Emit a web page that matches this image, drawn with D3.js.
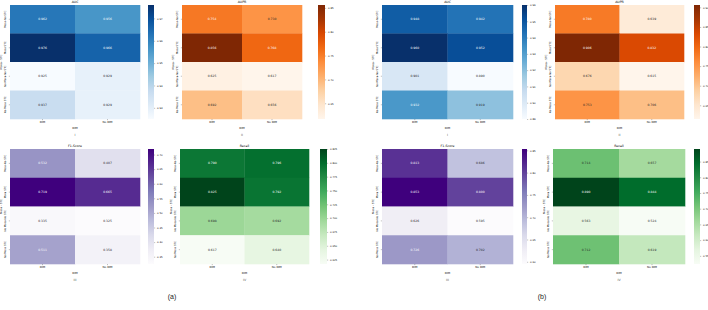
<!DOCTYPE html>
<html><head><meta charset="utf-8">
<script src="https://cdn.jsdelivr.net/npm/d3@7"></script>
<style>body{margin:0;background:#fff}svg{display:block}</style>
</head><body>
<svg id="chart" width="708" height="310"></svg>
<script>
// ---------------- data ----------------
const rowLabels = ["Mosa-No STC", "Mosa STC", "No Mosa-No STC", "No Mosa STC"];
const colLabels = ["DIM", "No DIM"];

// subfigure (a)
const aucA    = [[0.962, 0.956], [0.976, 0.966], [0.925, 0.929], [0.937, 0.929]];
const auprA   = [[0.754, 0.730], [0.856, 0.768], [0.625, 0.617], [0.692, 0.656]];
const f1A     = [[0.532, 0.407], [0.719, 0.665], [0.335, 0.325], [0.511, 0.358]];
const recallA = [[0.790, 0.796], [0.825, 0.792], [0.698, 0.692], [0.617, 0.640]];
// subfigure (b)
const aucB    = [[0.948, 0.942], [0.960, 0.952], [0.901, 0.890], [0.932, 0.919]];
const auprB   = [[0.780, 0.639], [0.906, 0.832], [0.676, 0.615], [0.753, 0.706]];
const f1B     = [[0.813, 0.686], [0.853, 0.800], [0.626, 0.595], [0.726, 0.702]];
const recallB = [[0.714, 0.657], [0.890, 0.844], [0.563, 0.524], [0.712, 0.619]];

// colorbar tick labels
const aucATicks    = [0.93, 0.94, 0.95, 0.96, 0.97];
const auprATicks   = [0.65, 0.70, 0.75, 0.80, 0.85];
const f1ATicks     = [0.35, 0.40, 0.45, 0.50, 0.55, 0.60, 0.65, 0.70];
const recallATicks = [0.625, 0.650, 0.675, 0.700, 0.725, 0.750, 0.775, 0.800, 0.825];
const aucBTicks    = [0.89, 0.90, 0.91, 0.92, 0.93, 0.94, 0.95, 0.96];
const auprBTicks   = [0.65, 0.70, 0.75, 0.80, 0.85, 0.90];
const f1BTicks     = [0.60, 0.65, 0.70, 0.75, 0.80, 0.85];
const recallBTicks = [0.55, 0.60, 0.65, 0.70, 0.75, 0.80, 0.85];

const titles = ["AUC", "AUPR", "F1-Score", "Recall"];
const subLabels = ["I", "II", "III", "IV"];
const figLabels = ["(a)", "(b)"];

// ---------------- styles (matplotlib sequential maps) ----------------
const BLUES   = ["#f7fbff","#deebf7","#c6dbef","#9ecae1","#6baed6","#4292c6","#2171b5","#08519c","#08306b"];
const ORANGES = ["#fff5eb","#fee6ce","#fdd0a2","#fdae6b","#fd8d3c","#f16913","#d94801","#a63603","#7f2704"];
const PURPLES = ["#fcfbfd","#efedf5","#dadaeb","#bcbddc","#9e9ac8","#807dba","#6a51a3","#54278f","#3f007d"];
const GREENS  = ["#f7fcf5","#e5f5e0","#c7e9c0","#a1d99b","#74c476","#41ab5d","#238b45","#006d2c","#00441b"];

const FONT = "'DejaVu Sans', sans-serif";
const TOP_ROW = {top: 5, bottom: 119};
const BOT_ROW = {top: 149, bottom: 264};

const panels = [
  {values: aucA,    ticks: aucATicks,    fmt: ".2f", cmap: BLUES,   t: 0, row: TOP_ROW, x0: 10,  x1: 140, cb0: 148, cb1: 154},
  {values: auprA,   ticks: auprATicks,   fmt: ".2f", cmap: ORANGES, t: 1, row: TOP_ROW, x0: 182, x1: 302, cb0: 318, cb1: 325},
  {values: f1A,     ticks: f1ATicks,     fmt: ".2f", cmap: PURPLES, t: 2, row: BOT_ROW, x0: 10,  x1: 140, cb0: 148, cb1: 154},
  {values: recallA, ticks: recallATicks, fmt: ".3f", cmap: GREENS,  t: 3, row: BOT_ROW, x0: 180, x1: 309, cb0: 320, cb1: 327},
  {values: aucB,    ticks: aucBTicks,    fmt: ".2f", cmap: BLUES,   t: 0, row: TOP_ROW, x0: 382, x1: 513, cb0: 522, cb1: 527},
  {values: auprB,   ticks: auprBTicks,   fmt: ".2f", cmap: ORANGES, t: 1, row: TOP_ROW, x0: 555, x1: 684, cb0: 694, cb1: 700},
  {values: f1B,     ticks: f1BTicks,     fmt: ".2f", cmap: PURPLES, t: 2, row: BOT_ROW, x0: 382, x1: 513, cb0: 522, cb1: 527},
  {values: recallB, ticks: recallBTicks, fmt: ".2f", cmap: GREENS,  t: 3, row: BOT_ROW, x0: 553, x1: 685, cb0: 694, cb1: 700}
];

const svg = d3.select("#chart");
svg.append("rect").attr("width", 708).attr("height", 310).attr("fill", "#fff");
const defs = svg.append("defs");

function luminance(c) {
  const rgb = d3.rgb(c);
  const lin = v => { v /= 255; return v <= 0.03928 ? v / 12.92 : Math.pow((v + 0.055) / 1.055, 2.4); };
  return 0.2126 * lin(rgb.r) + 0.7152 * lin(rgb.g) + 0.0722 * lin(rgb.b);
}

panels.forEach((p, pi) => {
  const flat = p.values.flat();
  const vmin = d3.min(flat), vmax = d3.max(flat);
  const color = d3.scaleLinear()
    .domain(p.cmap.map((_, i) => vmin + i / (p.cmap.length - 1) * (vmax - vmin)))
    .range(p.cmap).clamp(true);
  const x = d3.scaleBand().domain(colLabels).range([p.x0, p.x1]);
  const y = d3.scaleBand().domain(rowLabels).range([p.row.top, p.row.bottom]);
  const g = svg.append("g").attr("font-family", FONT);

  const cells = [];
  p.values.forEach((r, ri) => r.forEach((v, ci) => cells.push({r: rowLabels[ri], c: colLabels[ci], v})));

  g.selectAll("rect.cell").data(cells).join("rect")
    .attr("class", "cell")
    .attr("x", d => x(d.c)).attr("y", d => y(d.r))
    .attr("width", x.bandwidth() + 0.3).attr("height", y.bandwidth() + 0.3)
    .attr("fill", d => color(d.v));

  g.selectAll("text.annot").data(cells).join("text")
    .attr("class", "annot")
    .attr("x", d => x(d.c) + x.bandwidth() / 2)
    .attr("y", d => y(d.r) + y.bandwidth() / 2)
    .attr("dy", "0.35em").attr("text-anchor", "middle")
    .attr("font-size", 3)
    .attr("fill", d => luminance(color(d.v)) > 0.408 ? "#262626" : "#ffffff")
    .text(d => d3.format(".3f")(d.v));

  // x axis
  const xa = g.append("g").attr("transform", `translate(0,${p.row.bottom})`)
    .call(d3.axisBottom(x).tickSize(1.2).tickPadding(1.3));
  xa.select(".domain").remove();
  xa.selectAll("line").attr("stroke", "#333").attr("stroke-width", 0.3);
  xa.selectAll("text").attr("font-size", 2.8).attr("font-family", FONT).attr("fill", "#000");

  // y axis with rotated labels
  const ya = g.append("g").attr("transform", `translate(${p.x0},0)`)
    .call(d3.axisLeft(y).tickSize(1.2));
  ya.select(".domain").remove();
  ya.selectAll("line").attr("stroke", "#333").attr("stroke-width", 0.3);
  ya.selectAll("text")
    .attr("transform", "rotate(-90)")
    .attr("x", 0).attr("y", -4.5).attr("dy", "0.35em")
    .attr("text-anchor", "middle")
    .attr("font-size", 2.6).attr("font-family", FONT).attr("fill", "#000");

  // axis labels
  g.append("text")
    .attr("transform", `translate(${p.x0 - 9},${(p.row.top + p.row.bottom) / 2}) rotate(-90)`)
    .attr("text-anchor", "middle").attr("dy", "0.35em")
    .attr("font-size", 2.7).text("Mosa - STC");
  g.append("text")
    .attr("x", (p.x0 + p.x1) / 2).attr("y", p.row.bottom + 9).attr("dy", "0.35em")
    .attr("text-anchor", "middle").attr("font-size", 2.8).text("DIM");
  g.append("text")
    .attr("x", (p.x0 + p.x1) / 2).attr("y", p.row.bottom + 15.5).attr("dy", "0.35em")
    .attr("text-anchor", "middle").attr("font-size", 3.2).attr("fill", "#444").text(subLabels[p.t]);
  g.append("text")
    .attr("x", (p.x0 + p.x1) / 2).attr("y", p.row.top - 3).attr("dy", "0.35em")
    .attr("text-anchor", "middle").attr("font-size", 3.2).text(titles[p.t]);

  // colorbar
  const gid = "grad" + pi;
  const grad = defs.append("linearGradient").attr("id", gid)
    .attr("x1", 0).attr("y1", 1).attr("x2", 0).attr("y2", 0);
  p.cmap.forEach((c, i) => grad.append("stop")
    .attr("offset", i / (p.cmap.length - 1)).attr("stop-color", c));
  g.append("rect").attr("x", p.cb0).attr("y", p.row.top)
    .attr("width", p.cb1 - p.cb0).attr("height", p.row.bottom - p.row.top)
    .attr("fill", `url(#${gid})`);
  const cy = d3.scaleLinear().domain([vmin, vmax]).range([p.row.bottom, p.row.top]);
  const ca = g.append("g").attr("transform", `translate(${p.cb1},0)`)
    .call(d3.axisRight(cy).tickValues(p.ticks).tickFormat(d3.format(p.fmt)).tickSize(1.2).tickPadding(1.8));
  ca.select(".domain").remove();
  ca.selectAll("line").attr("stroke", "#333").attr("stroke-width", 0.3);
  ca.selectAll("text").attr("font-size", 2.5).attr("font-family", FONT).attr("fill", "#000");
});

// subfigure labels
svg.append("text").attr("x", 172).attr("y", 297).attr("dy", "0.35em")
  .attr("text-anchor", "middle").attr("font-family", "'Liberation Sans', Arial, sans-serif")
  .attr("font-size", 7).attr("fill", "#222").text(figLabels[0]);
svg.append("text").attr("x", 542).attr("y", 297).attr("dy", "0.35em")
  .attr("text-anchor", "middle").attr("font-family", "'Liberation Sans', Arial, sans-serif")
  .attr("font-size", 7).attr("fill", "#222").text(figLabels[1]);
</script>
</body></html>
